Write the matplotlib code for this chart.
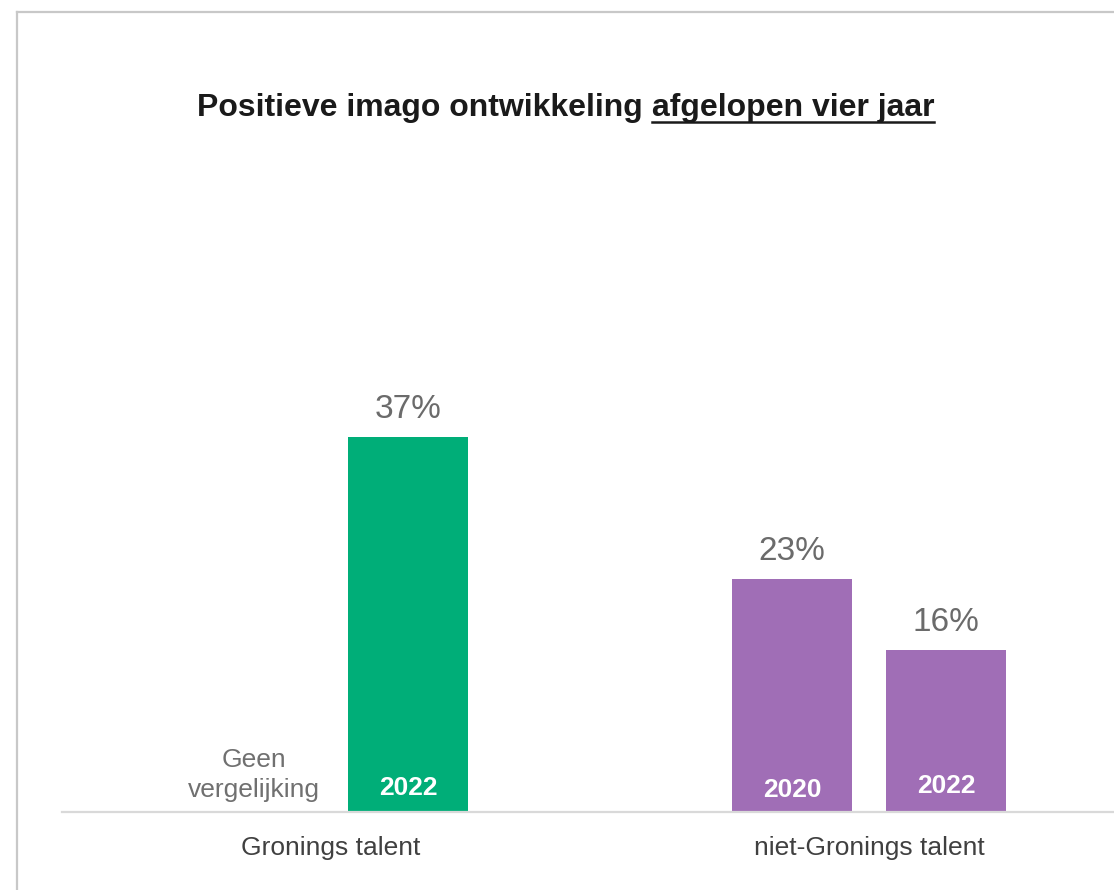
import numpy as np
import matplotlib.pyplot as plt
from matplotlib.lines import Line2D

plt.rcParams.update({
    "font.family": ["Liberation Sans", "DejaVu Sans"],
})

# ---- data ----
groups = ["Gronings talent", "niet-Gronings talent"]
years = ["2020", "2022"]
gronings = [None, 37]          # 2020 niet gemeten
niet_gronings = [23, 16]
no_comparison_text = "Geen\nvergelijking"
title_plain = "Positieve imago ontwikkeling "
title_underlined = "afgelopen vier jaar"

green = "#00AE78"
purple = "#A06EB6"
value_grey = "#6B6B6B"

W, H = 1114, 890
fig = plt.figure(figsize=(W / 100, H / 100), dpi=100)

# as wide as needed: right end is cut off in the original
ax = fig.add_axes([62 / W, 1 - 812 / H, (1138 - 62) / W, (812 - 153) / H])
ax.set_xlim(-0.5, 1.5)
ax.set_ylim(0, 65)

offset = 0.143
width = 0.223
series = [(gronings, green), (niet_gronings, purple)]
year_y = [[2.4, 2.4], [2.2, 2.6]]

for gi, (vals, col) in enumerate(series):
    for yi, v in enumerate(vals):
        x = gi + (yi - 0.5) * 2 * offset
        if v is None:
            ax.text(x, 1.0, no_comparison_text, ha="center", va="bottom",
                    fontsize=19, color="#707070", linespacing=1.3)
            continue
        ax.bar(x, v, width=width, color=col, zorder=2)
        ax.annotate(f"{v}%", (x, v), xytext=(0, 20), textcoords="offset points",
                    ha="center", va="center", fontsize=24, color=value_grey)
        ax.text(x, year_y[gi][yi], years[yi], ha="center", va="center",
                fontsize=19, fontweight="bold", color="white", zorder=3)

ax.set_xticks([0, 1])
ax.set_xticklabels(groups, fontsize=19, color="#404040")
ax.tick_params(axis="x", length=0, pad=17)
ax.set_yticks([])
for s in ["top", "right", "left"]:
    ax.spines[s].set_visible(False)
ax.spines["bottom"].set_color("#D9D9D9")
ax.spines["bottom"].set_linewidth(1.6)

# ---- title with underlined part ----
ty = 1 - 108 / H
t1 = fig.text(197 / W, ty, title_plain, ha="left", va="center",
              fontsize=23, fontweight="bold", color="#1A1A1A")
fig.canvas.draw()
r = fig.canvas.get_renderer()
bb1 = t1.get_window_extent(r)
t2 = fig.text(bb1.x1 / W, ty, title_underlined, ha="left", va="center",
              fontsize=23, fontweight="bold", color="#1A1A1A")
bb2 = t2.get_window_extent(r)
uy = 1 - 122 / H
fig.add_artist(Line2D([bb2.x0 / W, bb2.x1 / W], [uy, uy],
                      color="#1A1A1A", lw=1.8, transform=fig.transFigure))

# ---- outer frame (top and left visible) ----
fig.add_artist(Line2D([17 / W, 1.01], [1 - 12 / H, 1 - 12 / H],
                      color="#C8C8C8", lw=1.6, transform=fig.transFigure))
fig.add_artist(Line2D([17 / W, 17 / W], [1 - 12 / H, -0.01],
                      color="#C8C8C8", lw=1.6, transform=fig.transFigure))

fig.savefig("out.png", dpi=100)
